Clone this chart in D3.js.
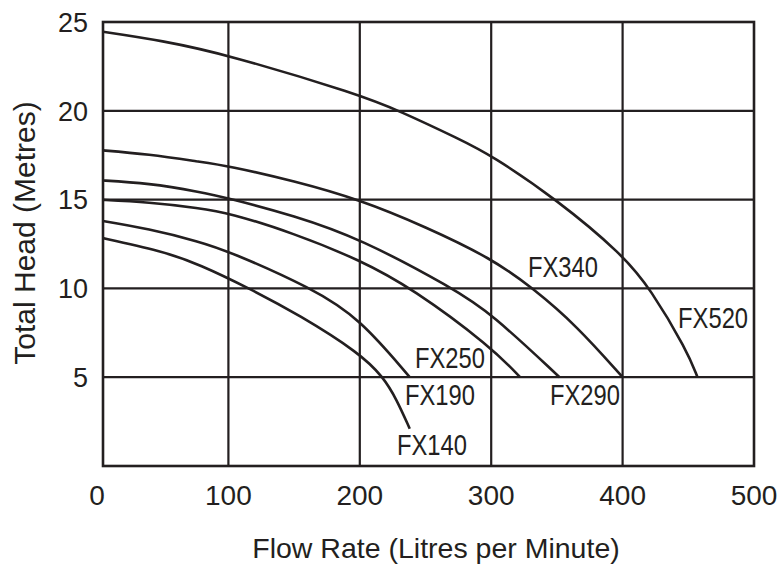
<!DOCTYPE html>
<html>
<head>
<meta charset="utf-8">
<script src="https://cdn.jsdelivr.net/npm/d3@7"></script>
<style>
	body { margin: 0; background: #fff; }
	svg text { font-family: "Liberation Sans", Arial, Helvetica, sans-serif; fill: #231f20; }
</style>
</head>
<body>
<svg id="chart" width="781" height="570"></svg>
<script>
// pump curves: [flow (L/min), head (m)]
const modelNames = ['FX140', 'FX190', 'FX250', 'FX290', 'FX340', 'FX520'];
const fx140 = [[0, 12.9], [50, 12.1], [78, 11.35], [116, 10], [154, 8.5], [200, 6.35], [218, 5], [228, 3.75], [238, 2.1]];
const fx190 = [[0, 13.85], [40, 13.35], [78, 12.63], [100, 12.1], [164, 10], [200, 8.3], [238, 5]];
const fx250 = [[0, 15.0], [40, 14.85], [78, 14.52], [100, 14.26], [150, 13.1], [200, 11.6], [240, 10], [300, 6.7], [322, 5]];
const fx290 = [[0, 16.1], [40, 15.92], [78, 15.44], [100, 15.08], [150, 14.1], [200, 12.82], [271, 10], [300, 8.6], [352, 5]];
const fx340 = [[0, 17.8], [40, 17.55], [78, 17.13], [100, 16.9], [150, 16.05], [200, 15.0], [250, 13.47], [300, 11.7], [332, 10], [365, 7.9], [400, 5]];
const fx520 = [[0, 24.5], [50, 23.95], [100, 23.15], [200, 20.9], [230, 20], [276, 18.4], [300, 17.5], [350, 15], [400, 11.9], [421, 10], [449, 6.5], [457, 5]];

// where each model name sits, in flow / head units
const labelAt = [[228.3, 0.62], [234.4, 3.43], [242, 5.52], [344.7, 3.43], [328, 10.64], [442.2, 7.77]];

const xTicks = [0, 100, 200, 300, 400, 500];
const yTicks = [5, 10, 15, 20, 25];
const xTitle = 'Flow Rate (Litres per Minute)';
const yTitle = 'Total Head (Metres)';

const PumpChart = {
	plot: { left: 97, right: 754, top: 22, bottom: 466 },
	frameInset: 6, // frame starts a little right of flow 0
	labelSquash: 0.82, // model names are set in a condensed face
	ink: '#231f20',
	x: null,
	y: null,

	init: function() {
		const self = this;
		var plot = self.plot;

		self.x = d3.scaleLinear().domain([0, 500]).range([plot.left, plot.right]);
		self.y = d3.scaleLinear().domain([0, 25]).range([plot.bottom, plot.top]);
	},
	update: function() {
		PumpChart.init();
		PumpChart.drawGrid();
		PumpChart.drawCurves();
		PumpChart.drawFrame();
		PumpChart.drawTicks();
		PumpChart.drawTitles();
		PumpChart.drawModelLabels();
	},

	drawGrid: function() {
		const self = this;
		var svg = d3.select('#chart');
		var x = self.x, y = self.y;
		var frameLeft = self.plot.left + self.frameInset;

		var grid = svg.append('g').attr('class', 'grid')
			.style('stroke', self.ink)
			.style('stroke-width', 2.2);

		grid.selectAll('.vline')
			.data(xTicks.slice(1, -1))
			.enter().append('line')
			.attr('class', 'vline')
			.attr('x1', function(d) { return x(d); })
			.attr('x2', function(d) { return x(d); })
			.attr('y1', y(25))
			.attr('y2', y(0));

		grid.selectAll('.hline')
			.data(yTicks.slice(0, -1))
			.enter().append('line')
			.attr('class', 'hline')
			.attr('x1', frameLeft)
			.attr('x2', x(500))
			.attr('y1', function(d) { return y(d); })
			.attr('y2', function(d) { return y(d); });
	},
	drawCurves: function() {
		const self = this;
		var svg = d3.select('#chart');
		var x = self.x, y = self.y;
		var frameLeft = self.plot.left + self.frameInset;
		var curves = [fx140, fx190, fx250, fx290, fx340, fx520];

		svg.append('clipPath').attr('id', 'plot-clip')
			.append('rect')
			.attr('x', frameLeft)
			.attr('y', y(25))
			.attr('width', x(500) - frameLeft)
			.attr('height', y(0) - y(25));

		// basis smooths out the small reading errors between points
		var line = d3.line()
			.x(function(d) { return x(d[0]); })
			.y(function(d) { return y(d[1]); })
			.curve(d3.curveBasis);

		svg.append('g').attr('clip-path', 'url(#plot-clip)')
			.selectAll('.curve')
			.data(curves)
			.enter().append('path')
			.attr('class', 'curve')
			.attr('d', line)
			.style('fill', 'none')
			.style('stroke', self.ink)
			.style('stroke-width', 2.6);
	},
	drawFrame: function() {
		const self = this;
		var svg = d3.select('#chart');
		var x = self.x, y = self.y;
		var frameLeft = self.plot.left + self.frameInset;

		svg.append('rect')
			.attr('x', frameLeft)
			.attr('y', y(25))
			.attr('width', x(500) - frameLeft)
			.attr('height', y(0) - y(25))
			.style('fill', 'none')
			.style('stroke', self.ink)
			.style('stroke-width', 2.6);
	},
	drawTicks: function() {
		const self = this;
		var svg = d3.select('#chart');
		var x = self.x, y = self.y;

		svg.append('g').selectAll('text')
			.data(xTicks)
			.enter().append('text')
			.attr('x', function(d) { return x(d); })
			.attr('y', 505)
			.attr('text-anchor', 'middle')
			.style('font-size', '28px')
			.text(function(d) { return d; });

		svg.append('g').selectAll('text')
			.data(yTicks)
			.enter().append('text')
			.attr('x', 88)
			.attr('y', function(d) { return y(d); })
			.attr('dy', '0.36em')
			.attr('text-anchor', 'end')
			.style('font-size', '27px')
			.text(function(d) { return d; });
	},
	drawTitles: function() {
		var svg = d3.select('#chart');

		svg.append('text')
			.attr('x', 436)
			.attr('y', 558)
			.attr('text-anchor', 'middle')
			.style('font-size', '28.5px')
			.text(xTitle);

		svg.append('text')
			.attr('transform', 'translate(35,233) rotate(-90)')
			.attr('text-anchor', 'middle')
			.style('font-size', '30px')
			.text(yTitle);
	},
	drawModelLabels: function() {
		const self = this;
		var svg = d3.select('#chart');
		var x = self.x, y = self.y;
		var squash = self.labelSquash;

		svg.append('g').selectAll('.model-label')
			.data(modelNames)
			.enter().append('text')
			.attr('class', 'model-label')
			.attr('transform', function(d, i) {
				return 'translate(' + [ x(labelAt[i][0]), y(labelAt[i][1]) ] + ') scale(' + squash + ',1)';
			})
			.style('font-size', '29px')
			.text(function(d) { return d; });
	}
}

PumpChart.update();
</script>
</body>
</html>
